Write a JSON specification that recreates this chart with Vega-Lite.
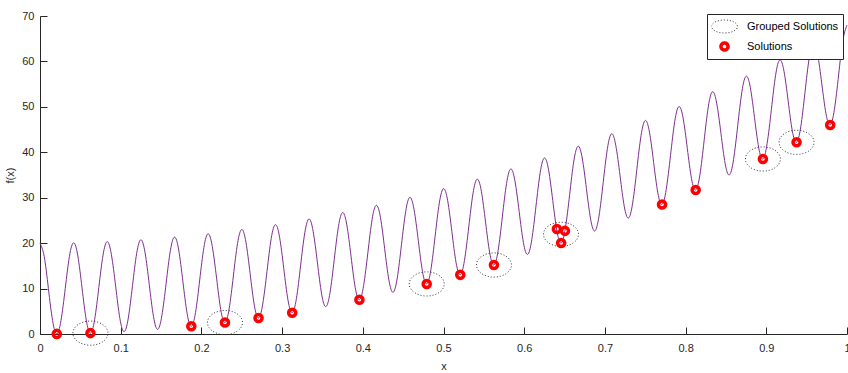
{
  "$schema": "https://vega.github.io/schema/vega-lite/v6.json",
  "width": 807,
  "height": 318,
  "autosize": {"type": "none"},
  "padding": {"left": 40, "top": 16, "right": 1, "bottom": 39},
  "background": "white",
  "config": {
    "view": {"stroke": null},
    "font": "Liberation Sans",
    "axis": {
      "domainColor": "#262626", "tickColor": "#262626", "labelColor": "#262626", "titleColor": "#262626",
      "labelFont": "Liberation Sans", "titleFont": "Liberation Sans", "labelFontSize": 11, "titleFontSize": 11,
      "titleFontWeight": "normal", "grid": false, "tickSize": -7, "domainWidth": 1, "tickWidth": 1,
      "labelFlush": false, "labelOverlap": false
    }
  },
  "datasets": {
    "curve": [
      {"x":0,"y":20},{"x":0.0052,"y":17.07},{"x":0.0104,"y":10.01},{"x":0.0156,"y":2.94},{"x":0.0208,"y":0.02},{"x":0.026,"y":2.96},{"x":0.0313,"y":10.05},{"x":0.0365,"y":17.13},
      {"x":0.0417,"y":20.08},{"x":0.0469,"y":17.18},{"x":0.0521,"y":10.13},{"x":0.0573,"y":3.09},{"x":0.0625,"y":0.19},{"x":0.0677,"y":3.15},{"x":0.0729,"y":10.26},{"x":0.0781,"y":17.36},
      {"x":0.0833,"y":20.33},{"x":0.0885,"y":17.45},{"x":0.0938,"y":10.42},{"x":0.099,"y":3.4},{"x":0.1042,"y":0.52},{"x":0.1094,"y":3.5},{"x":0.1146,"y":10.63},{"x":0.1198,"y":17.76},
      {"x":0.125,"y":20.75},{"x":0.1302,"y":17.88},{"x":0.1354,"y":10.88},{"x":0.1406,"y":3.88},{"x":0.1458,"y":1.02},{"x":0.151,"y":4.02},{"x":0.1563,"y":11.17},{"x":0.1615,"y":18.32},
      {"x":0.1667,"y":21.33},{"x":0.1719,"y":18.49},{"x":0.1771,"y":11.51},{"x":0.1823,"y":4.52},{"x":0.1875,"y":1.69},{"x":0.1927,"y":4.71},{"x":0.1979,"y":11.88},{"x":0.2031,"y":19.05},
      {"x":0.2083,"y":22.08},{"x":0.2135,"y":19.26},{"x":0.2188,"y":12.3},{"x":0.224,"y":5.34},{"x":0.2292,"y":2.52},{"x":0.2344,"y":5.57},{"x":0.2396,"y":12.76},{"x":0.2448,"y":19.95},
      {"x":0.25,"y":23},{"x":0.2552,"y":20.2},{"x":0.2604,"y":13.26},{"x":0.2656,"y":6.32},{"x":0.2708,"y":3.52},{"x":0.276,"y":6.59},{"x":0.2813,"y":13.8},{"x":0.2865,"y":21.01},
      {"x":0.2917,"y":24.08},{"x":0.2969,"y":21.3},{"x":0.3021,"y":14.38},{"x":0.3073,"y":7.46},{"x":0.3125,"y":4.69},{"x":0.3177,"y":7.77},{"x":0.3229,"y":15.01},{"x":0.3281,"y":22.24},
      {"x":0.3333,"y":25.33},{"x":0.3385,"y":22.57},{"x":0.3438,"y":15.67},{"x":0.349,"y":8.77},{"x":0.3542,"y":6.02},{"x":0.3594,"y":9.13},{"x":0.3646,"y":16.38},{"x":0.3698,"y":23.63},
      {"x":0.375,"y":26.75},{"x":0.3802,"y":24.01},{"x":0.3854,"y":17.13},{"x":0.3906,"y":10.25},{"x":0.3958,"y":7.52},{"x":0.401,"y":10.65},{"x":0.4063,"y":17.92},{"x":0.4115,"y":25.2},
      {"x":0.4167,"y":28.33},{"x":0.4219,"y":25.61},{"x":0.4271,"y":18.76},{"x":0.4323,"y":11.9},{"x":0.4375,"y":9.19},{"x":0.4427,"y":12.34},{"x":0.4479,"y":19.63},{"x":0.4531,"y":26.93},
      {"x":0.4583,"y":30.08},{"x":0.4635,"y":27.38},{"x":0.4688,"y":20.55},{"x":0.474,"y":13.71},{"x":0.4792,"y":11.02},{"x":0.4844,"y":14.19},{"x":0.4896,"y":21.51},{"x":0.4948,"y":28.82},
      {"x":0.5,"y":32},{"x":0.5052,"y":29.32},{"x":0.5104,"y":22.51},{"x":0.5156,"y":15.69},{"x":0.5208,"y":13.02},{"x":0.526,"y":16.21},{"x":0.5313,"y":23.55},{"x":0.5365,"y":30.88},
      {"x":0.5417,"y":34.08},{"x":0.5469,"y":31.43},{"x":0.5521,"y":24.63},{"x":0.5573,"y":17.84},{"x":0.5625,"y":15.19},{"x":0.5677,"y":18.4},{"x":0.5729,"y":25.76},{"x":0.5781,"y":33.11},
      {"x":0.5833,"y":36.33},{"x":0.5885,"y":33.7},{"x":0.5938,"y":26.92},{"x":0.599,"y":20.15},{"x":0.6042,"y":17.52},{"x":0.6094,"y":20.75},{"x":0.6146,"y":28.13},{"x":0.6198,"y":35.51},
      {"x":0.625,"y":38.75},{"x":0.6302,"y":36.13},{"x":0.6354,"y":29.38},{"x":0.6406,"y":22.63},{"x":0.6458,"y":20.02},{"x":0.651,"y":23.27},{"x":0.6563,"y":30.67},{"x":0.6615,"y":38.07},
      {"x":0.6667,"y":41.33},{"x":0.6719,"y":38.74},{"x":0.6771,"y":32.01},{"x":0.6823,"y":25.27},{"x":0.6875,"y":22.69},{"x":0.6927,"y":25.96},{"x":0.6979,"y":33.38},{"x":0.7031,"y":40.8},
      {"x":0.7083,"y":44.08},{"x":0.7135,"y":41.51},{"x":0.7188,"y":34.8},{"x":0.724,"y":28.09},{"x":0.7292,"y":25.52},{"x":0.7344,"y":28.82},{"x":0.7396,"y":36.26},{"x":0.7448,"y":43.7},
      {"x":0.75,"y":47},{"x":0.7552,"y":44.45},{"x":0.7604,"y":37.76},{"x":0.7656,"y":31.07},{"x":0.7708,"y":28.52},{"x":0.776,"y":31.84},{"x":0.7813,"y":39.3},{"x":0.7865,"y":46.76},
      {"x":0.7917,"y":50.08},{"x":0.7969,"y":47.55},{"x":0.8021,"y":40.88},{"x":0.8073,"y":34.21},{"x":0.8125,"y":31.69},{"x":0.8177,"y":35.02},{"x":0.8229,"y":42.51},{"x":0.8281,"y":49.99},
      {"x":0.8333,"y":53.33},{"x":0.8385,"y":50.82},{"x":0.8438,"y":44.17},{"x":0.849,"y":37.52},{"x":0.8542,"y":35.02},{"x":0.8594,"y":38.38},{"x":0.8646,"y":45.88},{"x":0.8698,"y":53.38},
      {"x":0.875,"y":56.75},{"x":0.8802,"y":54.26},{"x":0.8854,"y":47.63},{"x":0.8906,"y":41},{"x":0.8958,"y":38.52},{"x":0.901,"y":41.9},{"x":0.9063,"y":49.42},{"x":0.9115,"y":56.95},
      {"x":0.9167,"y":60.33},{"x":0.9219,"y":57.86},{"x":0.9271,"y":51.26},{"x":0.9323,"y":44.65},{"x":0.9375,"y":42.19},{"x":0.9427,"y":45.59},{"x":0.9479,"y":53.13},{"x":0.9531,"y":60.68},
      {"x":0.9583,"y":64.08},{"x":0.9635,"y":61.63},{"x":0.9688,"y":55.05},{"x":0.974,"y":48.46},{"x":0.9792,"y":46.02},{"x":0.9844,"y":49.44},{"x":0.9896,"y":57.01},{"x":0.9948,"y":64.57},
      {"x":1,"y":68}
    ],
    "groups": [
      {"x":0.0625,"y":0.19},{"x":0.2292,"y":2.52},{"x":0.4792,"y":11.02},{"x":0.5625,"y":15.19},
      {"x":0.6456,"y":21.94},{"x":0.8958,"y":38.52},{"x":0.9375,"y":42.19}
    ],
    "solutions": [
      {"x":0.0208,"y":0.02},{"x":0.0625,"y":0.19},{"x":0.1875,"y":1.69},{"x":0.2292,"y":2.52},
      {"x":0.2708,"y":3.52},{"x":0.3125,"y":4.69},{"x":0.3958,"y":7.52},{"x":0.4792,"y":11.02},
      {"x":0.5208,"y":13.02},{"x":0.5625,"y":15.19},{"x":0.6405,"y":23.1},{"x":0.6505,"y":22.7},
      {"x":0.6458,"y":20.02},{"x":0.7708,"y":28.52},{"x":0.8125,"y":31.69},{"x":0.8958,"y":38.52},
      {"x":0.9375,"y":42.19},{"x":0.9792,"y":46.02}
    ]
  },
  "layer": [
    {
      "data": {"name": "curve"},
      "mark": {"type": "line", "color": "#7E2F8E", "strokeWidth": 1, "interpolate": "natural"},
      "encoding": {
        "x": {"field": "x", "type": "quantitative", "scale": {"domain": [0, 1], "nice": false},
          "axis": {"title": "x", "values": [0,0.1,0.2,0.3,0.4,0.5,0.6,0.7,0.8,0.9,1], "format": "~g", "labelPadding": 15, "titlePadding": 7}},
        "y": {"field": "y", "type": "quantitative", "scale": {"domain": [0, 70], "nice": false},
          "axis": {"title": "f(x)", "values": [0,10,20,30,40,50,60,70], "labelPadding": 13, "titlePadding": 6}}
      }
    },
    {
      "data": {"name": "groups"},
      "mark": {"type": "point", "shape": "M-1,0A1,0.69 0 1,1 1,0A1,0.69 0 1,1 -1,0Z", "size": 1225, "filled": false, "strokeDash": [1, 2], "strokeWidth": 1, "opacity": 1},
      "encoding": {
        "x": {"field": "x", "type": "quantitative"},
        "y": {"field": "y", "type": "quantitative"},
        "color": {"datum": "Grouped Solutions", "type": "nominal",
          "scale": {"domain": ["Grouped Solutions", "Solutions"], "range": ["#333333", "#ff0000"]},
          "legend": {
            "title": null, "orient": "none", "legendX": 667, "legendY": -2, "strokeColor": "#262626", "fillColor": "white",
            "padding": 4.5, "rowPadding": 4, "clipHeight": 16, "symbolOffset": 7.5, "labelOffset": 17,
            "symbolType": {"expr": "datum.value == 'Grouped Solutions' ? 'M-1.3,0A1.3,0.65 0 1,1 1.3,0A1.3,0.65 0 1,1 -1.3,0Z' : 'circle'"},
            "symbolSize": {"expr": "datum.value == 'Grouped Solutions' ? 400 : 50"},
            "symbolStrokeWidth": {"expr": "datum.value == 'Grouped Solutions' ? 1 : 3.5"},
            "symbolDash": {"expr": "datum.value == 'Grouped Solutions' ? [1,2] : [1,0]"},
            "symbolOpacity": 1,
            "labelFont": "Liberation Sans", "labelFontSize": 11, "labelColor": "black", "cornerRadius": 0
          }}
      }
    },
    {
      "data": {"name": "solutions"},
      "mark": {"type": "point", "shape": "circle", "size": 50, "filled": false, "strokeWidth": 3.5, "opacity": 1},
      "encoding": {
        "x": {"field": "x", "type": "quantitative"},
        "y": {"field": "y", "type": "quantitative"},
        "color": {"datum": "Solutions", "type": "nominal"}
      }
    }
  ]
}
